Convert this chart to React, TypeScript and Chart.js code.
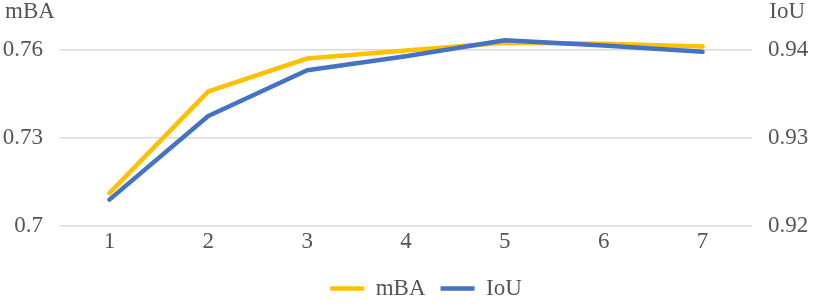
import React, { useEffect, useRef } from 'react';
import { Chart, registerables } from 'chart.js';

Chart.register(...registerables);

const categories = ['1', '2', '3', '4', '5', '6', '7'];
const mbaValues = [0.7112, 0.7459, 0.7571, 0.7598, 0.7625, 0.7621, 0.7612];
const iouValues = [0.923, 0.9325, 0.9377, 0.9393, 0.9411, 0.9405, 0.9398];
const leftTicks = [0.7, 0.73, 0.76];
const rightTicks = [0.92, 0.93, 0.94];
const leftTitle = 'mBA';
const rightTitle = 'IoU';

const FONT = "'Liberation Serif', 'Times New Roman', serif";
const TEXT = '#555555';
const FS = 23;

const titlePlugin = {
  id: 'axisTitles',
  afterLayout(chart: any) {
    const lg = chart.legend;
    if (lg) {
      lg.left += 19;
      lg.right += 19;
    }
  },
  afterDraw(chart: any) {
    const ctx = chart.ctx;
    ctx.save();
    ctx.font = `${FS}px ${FONT}`;
    ctx.fillStyle = TEXT;
    ctx.textBaseline = 'alphabetic';
    ctx.textAlign = 'left';
    ctx.fillText(leftTitle, 5, 18);
    ctx.textAlign = 'right';
    ctx.fillText(rightTitle, 805, 18);
    ctx.restore();
  },
};

export default function App() {
  const ref = useRef<HTMLCanvasElement>(null);
  useEffect(() => {
    if (!ref.current) return;
    const chart = new Chart(ref.current, {
      type: 'line',
      data: {
        labels: categories,
        datasets: [
          {
            label: 'mBA',
            data: mbaValues,
            yAxisID: 'y',
            borderColor: '#FFC000',
            backgroundColor: '#FFC000',
            borderWidth: 4.5,
            pointRadius: 0,
            tension: 0,
            clip: false as any,
            borderCapStyle: 'round',
            borderJoinStyle: 'round',
            order: 1,
          },
          {
            label: 'IoU',
            data: iouValues,
            yAxisID: 'y1',
            borderColor: '#4472C4',
            backgroundColor: '#4472C4',
            borderWidth: 4.5,
            pointRadius: 0,
            tension: 0,
            clip: false as any,
            borderCapStyle: 'round',
            borderJoinStyle: 'round',
            order: 0,
          },
        ],
      },
      options: {
        responsive: false,
        animation: false,
        events: [],
        layout: { padding: { top: 50, bottom: -5, left: 0, right: 0 } },
        plugins: {
          tooltip: { enabled: false },
          legend: {
            position: 'bottom',
            labels: {
              usePointStyle: true,
              pointStyle: 'line',
              pointStyleWidth: 34,
              padding: 15,
              color: TEXT,
              font: { family: FONT, size: FS },
              sort: (a: any, b: any) => a.datasetIndex - b.datasetIndex,
            },
          },
        },
        scales: {
          x: {
            type: 'category',
            offset: true,
            grid: { display: false, drawTicks: false },
            border: { display: false },
            ticks: { color: TEXT, font: { family: FONT, size: FS }, padding: 2, maxRotation: 0 },
            afterFit: (s: any) => { s.height = 36; },
          },
          y: {
            position: 'left',
            min: leftTicks[0],
            max: leftTicks[leftTicks.length - 1],
            afterBuildTicks: (s: any) => { s.ticks = leftTicks.map((v) => ({ value: v })); },
            grid: { color: '#d9d9d9', lineWidth: 1.5, drawTicks: false },
            border: { display: false },
            ticks: {
              color: TEXT,
              font: { family: FONT, size: FS },
              padding: 17,
              callback: (v: any) => String(Number(Number(v).toFixed(2))),
            },
            afterFit: (s: any) => { s.width = 60; },
          },
          y1: {
            position: 'right',
            min: rightTicks[0],
            max: rightTicks[rightTicks.length - 1],
            afterBuildTicks: (s: any) => { s.ticks = rightTicks.map((v) => ({ value: v })); },
            grid: { display: false, drawTicks: false },
            border: { display: false },
            ticks: {
              color: TEXT,
              font: { family: FONT, size: FS },
              padding: 16,
              callback: (v: any) => String(Number(Number(v).toFixed(2))),
            },
            afterFit: (s: any) => { s.width = 62; },
          },
        },
      } as any,
      plugins: [titlePlugin],
    });
    return () => chart.destroy();
  }, []);
  return (
    <div style={{ position: 'absolute', left: 0, top: 0, width: 814, height: 305, background: '#fff' }}>
      <canvas ref={ref} width={814} height={305} style={{ width: 814, height: 305, display: 'block' }} />
    </div>
  );
}
